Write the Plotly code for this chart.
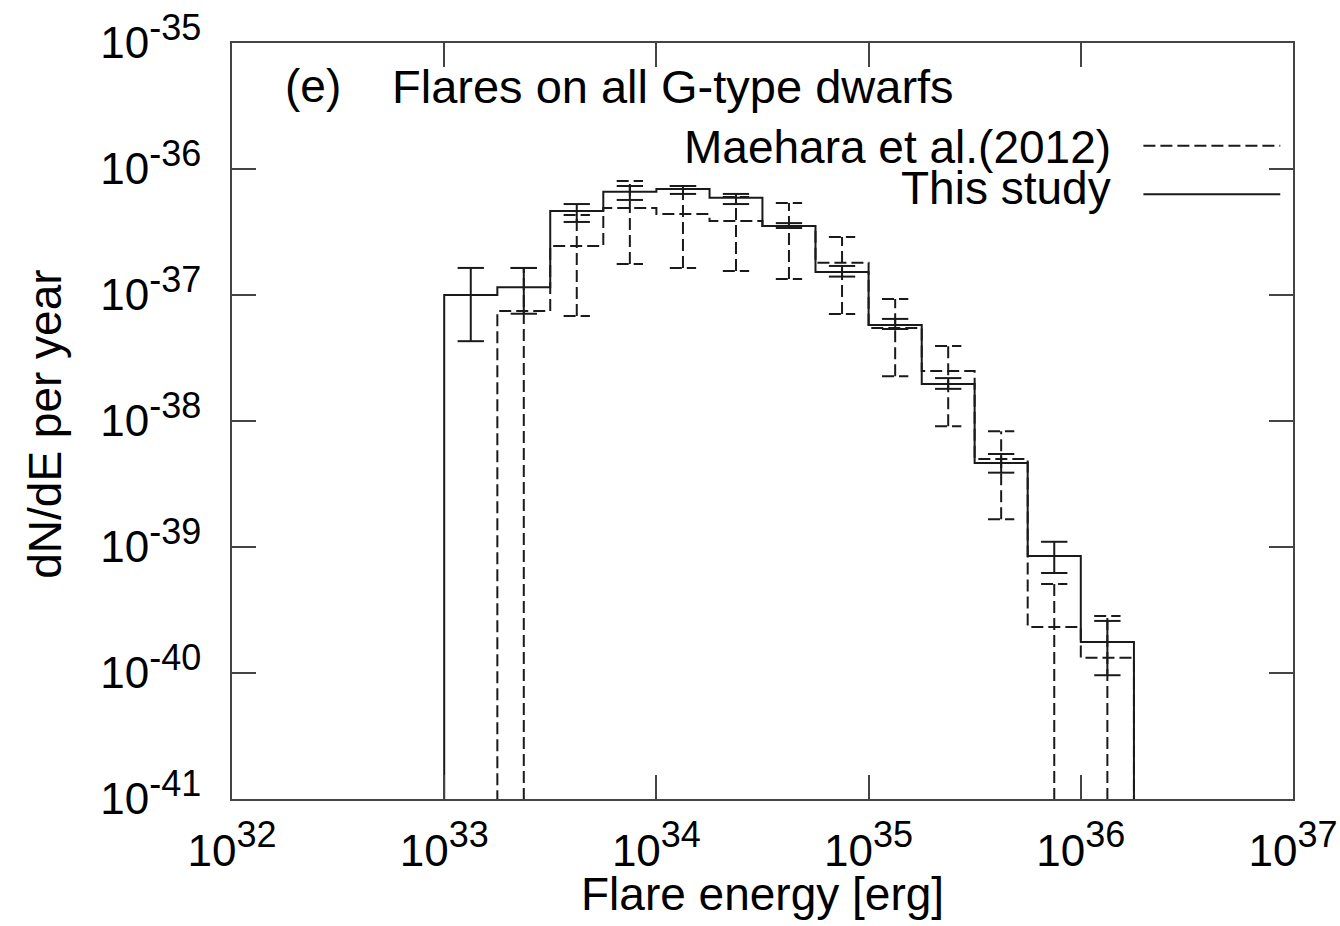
import plotly.graph_objects as go

# ---------------- data ----------------
bin_edges_erg = [1.00e33, 1.78e33, 3.16e33, 5.62e33, 1.00e34, 1.78e34, 3.16e34,
                 5.62e34, 1.00e35, 1.78e35, 3.16e35, 5.62e35, 1.00e36, 1.78e36]

this_study = [1.00e-37, 1.15e-37, 4.65e-37, 6.60e-37, 6.93e-37, 5.90e-37, 3.53e-37,
              1.52e-37, 5.78e-38, 1.97e-38, 4.64e-39, 8.50e-40, 1.76e-40]
this_lo = [4.3e-38, 7.1e-38, 3.8e-37, 5.68e-37, 6.34e-37, 5.27e-37, 3.40e-37,
           1.40e-37, 5.37e-38, 1.80e-38, 3.89e-39, 6.22e-40, 9.6e-41]
this_hi = [1.64e-37, 1.64e-37, 5.27e-37, 7.33e-37, 7.33e-37, 6.34e-37, 3.72e-37,
           1.70e-37, 6.46e-38, 2.19e-38, 5.47e-39, 1.10e-39, 2.59e-40]

maehara = [0.0, 7.46e-38, 2.45e-37, 4.90e-37, 4.40e-37, 3.87e-37, 3.53e-37,
           1.80e-37, 5.47e-38, 2.49e-38, 5.00e-39, 2.32e-40, 1.32e-40]
maehara_lo = [0.0, 0.0, 6.8e-38, 1.76e-37, 1.64e-37, 1.55e-37, 1.34e-37,
              7.08e-38, 2.27e-38, 9.1e-39, 1.66e-39, 0.0, 0.0]
maehara_hi = [0.0, 1.64e-37, 4.31e-37, 8.04e-37, 7.33e-37, 6.00e-37, 5.37e-37,
              2.88e-37, 9.3e-38, 3.94e-38, 8.3e-39, 5.08e-40, 2.83e-40]

x_tick_vals = [1e32, 1e33, 1e34, 1e35, 1e36, 1e37]
x_tick_exps = ["32", "33", "34", "35", "36", "37"]
y_tick_vals = [1e-41, 1e-40, 1e-39, 1e-38, 1e-37, 1e-36, 1e-35]
y_tick_exps = ["-41", "-40", "-39", "-38", "-37", "-36", "-35"]

legend_labels = ["Maehara et al.(2012)", "This study"]

# ---------------- helpers ----------------
FLOOR = 1e-46        # stands in for zero on the log axis (far below the range)
CAP = 10 ** 0.062    # half-width of error bar caps, as a factor on the log x axis


def step_xy(edges, vals):
    xs, ys = [edges[0]], [FLOOR]
    for i, v in enumerate(vals):
        v = v if v > 0 else FLOOR
        xs += [edges[i], edges[i + 1]]
        ys += [v, v]
    xs.append(edges[-1])
    ys.append(FLOOR)
    return xs, ys


def err_xy(edges, lo, hi):
    xs, ys = [], []
    for i, (l, h) in enumerate(zip(lo, hi)):
        if h <= 0:
            continue
        c = (edges[i] * edges[i + 1]) ** 0.5
        xs += [c, c, None]
        ys += [l if l > 0 else FLOOR, h, None]
        xs += [c / CAP, c * CAP, None]
        ys += [h, h, None]
        if l > 0:
            xs += [c / CAP, c * CAP, None]
            ys += [l, l, None]
    return xs, ys


def sup_label(exp):
    return '10<sup><span style="font-size:36px">%s</span></sup>' % exp


LINE_COL = "#1a1a1a"
DASH = "12px,5px"

fig = go.Figure()

mx, my = step_xy(bin_edges_erg, maehara)
fig.add_trace(go.Scatter(x=mx, y=my, mode="lines", name=legend_labels[0],
                         line=dict(color=LINE_COL, width=2, dash=DASH),
                         showlegend=False, hoverinfo="skip"))
ex, ey = err_xy(bin_edges_erg, maehara_lo, maehara_hi)
fig.add_trace(go.Scatter(x=ex, y=ey, mode="lines", name=legend_labels[0] + " errors",
                         line=dict(color=LINE_COL, width=2, dash=DASH),
                         showlegend=False, hoverinfo="skip"))

sx, sy = step_xy(bin_edges_erg, this_study)
fig.add_trace(go.Scatter(x=sx, y=sy, mode="lines", name=legend_labels[1],
                         line=dict(color=LINE_COL, width=2),
                         showlegend=False, hoverinfo="skip"))
ex2, ey2 = err_xy(bin_edges_erg, this_lo, this_hi)
fig.add_trace(go.Scatter(x=ex2, y=ey2, mode="lines", name=legend_labels[1] + " errors",
                         line=dict(color=LINE_COL, width=2),
                         showlegend=False, hoverinfo="skip"))

FONT = "Liberation Sans, Arial, Helvetica, sans-serif"
axis_common = dict(
    type="log", showgrid=False, zeroline=False, automargin=False,
    showline=True, linewidth=2, linecolor="#444", mirror="allticks",
    ticks="inside", ticklen=24, tickwidth=2, tickcolor="#444",
    tickfont=dict(family=FONT, size=44, color="black"),
)

fig.update_layout(
    width=1340, height=926,
    margin=dict(l=232, r=47, t=43, b=127),
    paper_bgcolor="white", plot_bgcolor="white",
    font=dict(family=FONT, color="black"),
    showlegend=False,
    xaxis=dict(axis_common, range=[32, 37], ticklabelstandoff=12,
               tickvals=x_tick_vals, ticktext=[sup_label(e) for e in x_tick_exps]),
    yaxis=dict(axis_common, range=[-41, -35], ticklabelstandoff=20,
               tickvals=y_tick_vals, ticktext=[sup_label(e) for e in y_tick_exps]),
)

# axis titles placed by pixel offsets from the plot frame (756 px tall, 1061 px wide)
fig.add_annotation(text="Flare energy [erg]", xref="paper", yref="paper",
                   x=0.5, y=-95 / 756, xanchor="center", yanchor="middle",
                   showarrow=False, font=dict(size=46, family=FONT))
fig.add_annotation(text="dN/dE per year", xref="paper", yref="paper",
                   x=-187 / 1061, y=0.495, xanchor="center", yanchor="middle",
                   textangle=-90, showarrow=False, font=dict(size=46, family=FONT))

fig.add_annotation(text="(e)", xref="paper", yref="paper", x=0.048, y=0.943,
                   xanchor="left", yanchor="middle", showarrow=False,
                   font=dict(size=46, family=FONT))
fig.add_annotation(text="Flares on all G-type dwarfs", xref="paper", yref="paper",
                   x=0.149, y=0.943, xanchor="left", yanchor="middle", showarrow=False,
                   font=dict(size=47, family=FONT))
fig.add_annotation(text=legend_labels[0], xref="paper", yref="paper", x=0.830, y=0.862,
                   xanchor="right", yanchor="middle", showarrow=False,
                   font=dict(size=46, family=FONT))
fig.add_annotation(text=legend_labels[1], xref="paper", yref="paper", x=0.830, y=0.808,
                   xanchor="right", yanchor="middle", showarrow=False,
                   font=dict(size=46, family=FONT))
fig.add_shape(type="line", xref="paper", yref="paper", x0=0.859, x1=0.988,
              y0=0.864, y1=0.864, line=dict(color=LINE_COL, width=2, dash=DASH))
fig.add_shape(type="line", xref="paper", yref="paper", x0=0.859, x1=0.988,
              y0=0.800, y1=0.800, line=dict(color=LINE_COL, width=2))

fig.write_html("out.html")
